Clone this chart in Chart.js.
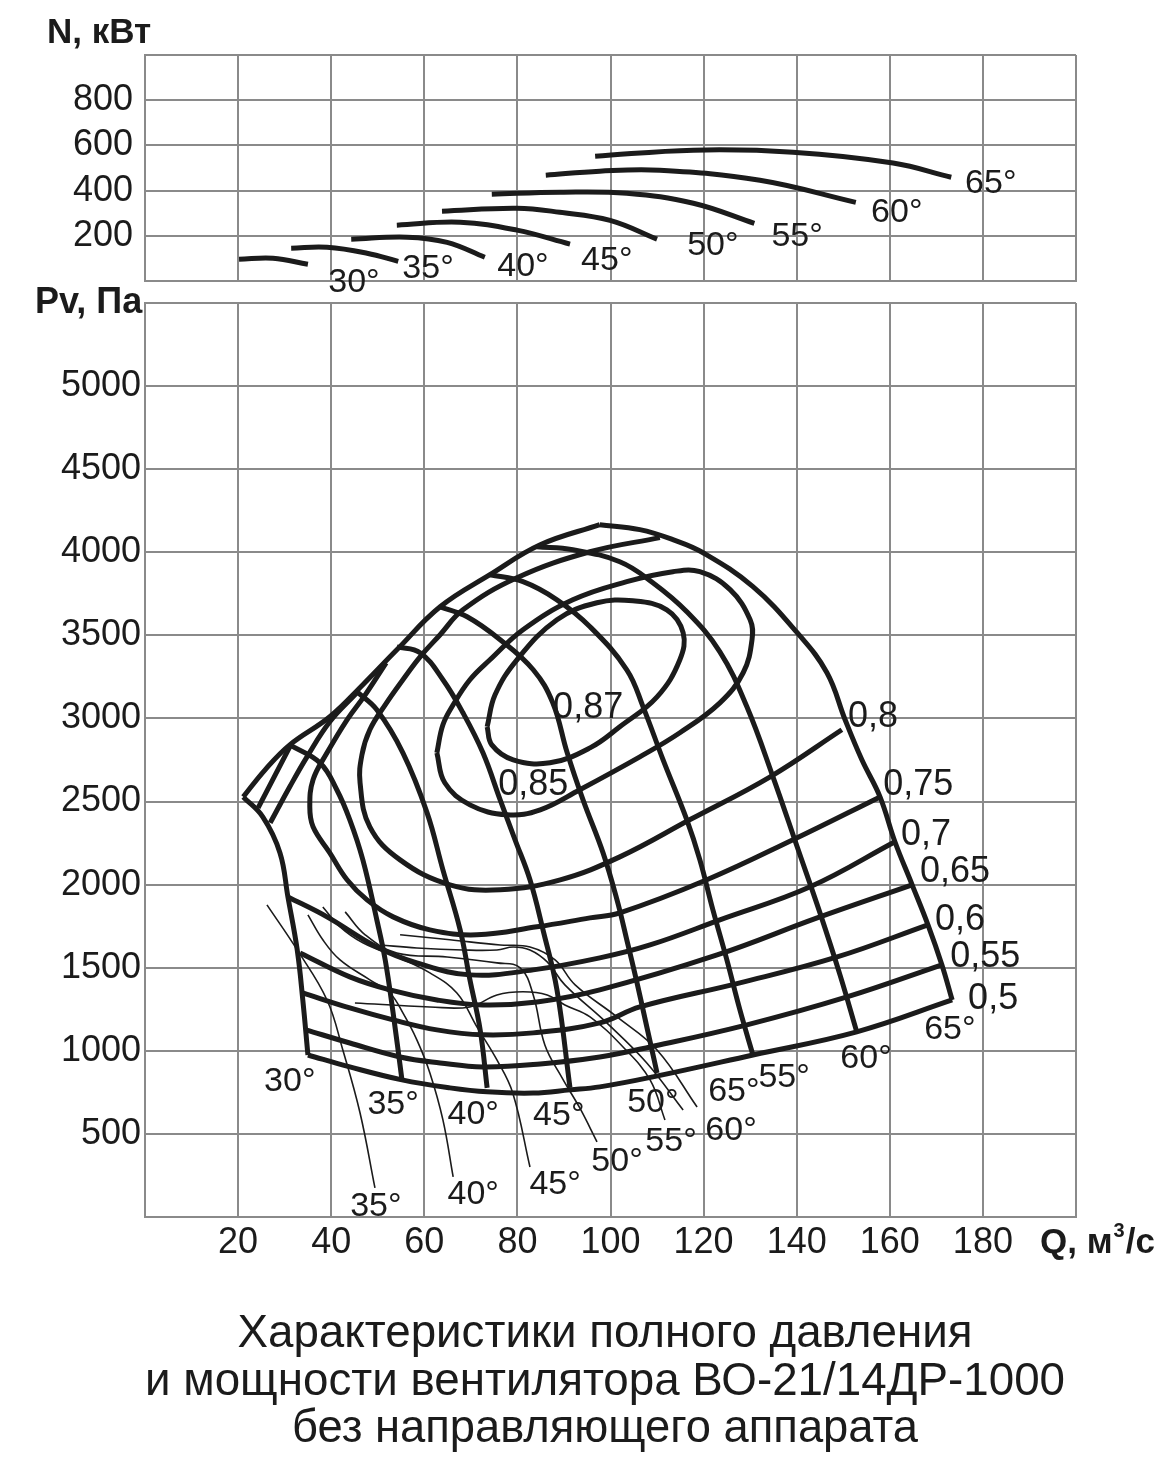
<!DOCTYPE html>
<html>
<head>
<meta charset="utf-8">
<script src="https://cdn.jsdelivr.net/npm/chart.js@4.4.1/dist/chart.umd.min.js"></script>
<style>
    html, body { margin: 0; padding: 0; background: #fff; }
    #wrap { position: relative; width: 1175px; height: 1460px; }
    canvas { position: absolute; left: 0; }
    #powerCanvas { top: 0; }
    #pressureCanvas { top: 270px; }
</style>
</head>
<body>
<div id="wrap">
    <canvas id="powerCanvas" width="1175" height="330"></canvas>
    <canvas id="pressureCanvas" width="1175" height="1190"></canvas>
</div>
<script>
// подписи осей
const qTicks = [20, 40, 60, 80, 100, 120, 140, 160, 180];
const nTicks = [200, 400, 600, 800];
const pvTicks = [500, 1000, 1500, 2000, 2500, 3000, 3500, 4000, 4500, 5000];

// мощность N, кВт  [Q, N]
const power30 = [[20.2, 96], [27.5, 101], [35.0, 74]];
const power35 = [[31.4, 145], [39.1, 149], [47.7, 123], [54.4, 87]];
const power40 = [[44.3, 185], [56.3, 194], [64.9, 171], [73.0, 105]];
const power45 = [[54.1, 247], [67.7, 260], [79.9, 225], [91.3, 163]];
const power50 = [[63.8, 309], [79.9, 322], [89.1, 304], [99.9, 268], [110.0, 185]];
const power55 = [[74.5, 384], [89.2, 393], [103.5, 388], [117.8, 344], [130.9, 255]];
const power60 = [[86.1, 468], [97.7, 486], [110.6, 490], [132.1, 446], [152.7, 348]];
const power65 = [[96.7, 552], [117.8, 579], [139.2, 570], [160.7, 522], [173.2, 459]];
const powerLabels = [['30°', 44.9, -6], ['35°', 60.8, 56], ['40°', 81.2, 65], ['45°', 99.2, 92],
    ['50°', 122.0, 158], ['55°', 140.1, 198], ['60°', 161.5, 304], ['65°', 181.7, 433]];

// полное давление Pv, Па  [Q, Pv] — линии углов установки лопаток
const stallLine = [[21.1, 2528], [25.8, 2691], [31.1, 2841], [39.7, 3010], [46.8, 3203], [54.1, 3413],
    [63.4, 3672], [74.1, 3865], [84.9, 4045], [97.7, 4166]];
const blade30 = [[21.1, 2528], [25.3, 2408], [29.0, 2191], [30.7, 1926], [32.7, 1607], [33.9, 1306], [35.0, 975]];
const blade35 = [[31.1, 2841], [37.6, 2733], [41.2, 2571], [44.0, 2390], [46.8, 2149], [49.8, 1788],
    [51.6, 1547], [53.3, 1228], [55.2, 825]];
const blade40 = [[45.5, 3161], [49.8, 3052], [55.4, 2793], [60.6, 2432], [64.0, 2089], [67.7, 1728],
    [69.8, 1427], [72.0, 1126], [73.5, 777]];
const blade45 = [[54.1, 3431], [59.1, 3395], [64.0, 3233], [68.3, 3034], [72.6, 2793], [76.3, 2510],
    [79.5, 2270], [82.7, 2029], [85.5, 1728], [88.5, 1367], [91.3, 777]];
const blade50 = [[63.4, 3672], [69.2, 3612], [76.3, 3474], [83.4, 3293], [87.6, 3094], [90.7, 2793],
    [94.1, 2510], [98.4, 2191], [101.4, 1908], [103.5, 1668], [105.7, 1409], [107.8, 1144], [110.0, 867]];
const blade55 = [[74.1, 3865], [81.2, 3823], [88.5, 3714], [95.6, 3552], [103.5, 3293], [107.0, 3070],
    [111.3, 2751], [116.4, 2390], [119.2, 2149], [122.0, 1848], [125.0, 1547], [127.8, 1246], [130.6, 975]];
const blade60 = [[84.2, 4033], [91.9, 4015], [102.0, 3943], [109.1, 3817], [116.4, 3642], [123.5, 3401],
    [129.3, 3070], [134.9, 2649], [140.1, 2228], [145.0, 1830], [149.3, 1457], [152.9, 1114]];
const blade65 = [[97.7, 4166], [106.3, 4136], [113.4, 4076], [119.9, 3997], [130.6, 3793], [140.1, 3516],
    [146.5, 3275], [150.4, 2992], [154.0, 2751], [157.9, 2528], [161.1, 2258], [164.8, 1999],
    [168.2, 1758], [171.2, 1517], [173.4, 1306]];
const edgeA = [[24.3, 2462], [31.1, 2829]];
const edgeB = [[26.9, 2372], [31.1, 2589], [34.8, 2769], [39.7, 2980], [45.5, 3154]];

// линии КПД
const eff50 = [[35.0, 975], [44.0, 903], [55.2, 825], [65.5, 777], [73.5, 753], [83.4, 746], [91.3, 765],
    [97.7, 783], [109.1, 843], [130.6, 975], [152.9, 1114], [173.4, 1306]];
const eff55 = [[34.6, 1126], [44.0, 1047], [54.8, 963], [63.4, 927], [72.6, 903], [84.9, 921], [97.7, 963],
    [108.5, 1023], [129.3, 1156], [150.8, 1324], [171.2, 1517]];
const eff60 = [[33.9, 1348], [44.0, 1258], [53.3, 1186], [62.7, 1126], [72.6, 1096], [83.4, 1108],
    [97.7, 1168], [106.3, 1264], [127.8, 1409], [148.7, 1565], [168.2, 1758]];
const eff65 = [[33.3, 1589], [44.0, 1445], [52.6, 1367], [62.7, 1306], [72.6, 1276], [84.2, 1294],
    [97.7, 1367], [122.9, 1577], [144.4, 1800], [164.8, 1999]];
const eff70 = [[30.7, 1926], [39.1, 1806], [49.8, 1625], [58.4, 1529], [69.8, 1457], [83.4, 1487],
    [97.7, 1559], [108.5, 1637], [123.5, 1788], [142.9, 1987], [161.1, 2258]];
const eff75 = [[157.9, 2528], [139.2, 2270], [120.7, 2029], [102.0, 1830], [95.6, 1800], [84.2, 1746],
    [71.3, 1698], [61.2, 1728], [53.3, 1806], [47.7, 1908], [43.4, 2029], [39.7, 2191], [36.1, 2348],
    [35.4, 2468], [36.1, 2631], [39.1, 2793], [43.4, 2992], [47.3, 3142], [51.8, 3335]];
const eff80 = [[149.7, 2932], [134.3, 2649], [117.0, 2390], [102.0, 2167], [89.2, 2029], [76.3, 1969],
    [65.5, 1999], [54.8, 2149], [48.3, 2348], [46.2, 2613], [46.6, 2781], [48.3, 2932], [51.6, 3082],
    [55.4, 3233], [59.1, 3371], [63.4, 3504], [68.3, 3654], [79.9, 3847], [95.6, 4003], [110.6, 4088]];
const eff85 = [[62.7, 2793], [64.0, 2962], [66.2, 3082], [69.8, 3233], [74.1, 3353], [81.2, 3534],
    [91.9, 3714], [103.5, 3823], [113.4, 3883], [119.2, 3883], [125.7, 3775], [130.0, 3594], [130.4, 3474],
    [128.5, 3275], [123.5, 3094], [114.9, 2914], [106.3, 2769], [93.4, 2571], [84.9, 2450], [77.8, 2420],
    [69.8, 2480], [64.4, 2613], [62.7, 2793]];
const eff87 = [[73.5, 2950], [75.2, 3142], [79.9, 3353], [88.5, 3594], [97.1, 3696], [104.8, 3708],
    [112.1, 3654], [115.6, 3516], [114.9, 3353], [110.0, 3130], [102.0, 2950], [95.6, 2823], [87.0, 2733],
    [79.1, 2751], [74.5, 2841], [73.5, 2950]];

// тонкие линии
const thin35 = [[26.2, 1878], [32.7, 1607], [39.1, 1306], [42.5, 1005], [46.2, 626], [49.4, 175]];
const thin40 = [[35.0, 1818], [38.2, 1668], [41.9, 1547], [48.3, 1427], [52.6, 1348], [55.4, 1228],
    [58.4, 1066], [61.2, 867], [64.0, 584], [66.2, 241]];
const thin45 = [[38.2, 1866], [41.9, 1746], [46.8, 1650], [54.1, 1565], [61.2, 1469], [67.0, 1348],
    [71.3, 1144], [75.6, 945], [79.0, 746], [82.7, 301]];
const thin50 = [[43.0, 1836], [47.3, 1698], [54.1, 1589], [64.9, 1565], [75.6, 1529], [80.6, 1499],
    [83.4, 1336], [85.9, 1035], [89.6, 837], [93.4, 656], [97.1, 452]];
const thin55 = [[45.1, 1288], [61.2, 1264], [69.8, 1264], [75.6, 1336], [81.2, 1355], [86.4, 1336],
    [90.2, 1276], [95.6, 1204], [102.7, 1023], [108.5, 825], [111.7, 584]];
const thin60 = [[50.5, 1637], [58.4, 1619], [68.3, 1607], [75.6, 1607], [79.1, 1625], [82.7, 1607],
    [86.4, 1535], [90.2, 1397], [99.2, 1168], [107.8, 927], [115.6, 644]];
const thin65 = [[54.8, 1698], [65.5, 1668], [76.3, 1637], [82.7, 1625], [88.1, 1547], [92.4, 1397],
    [101.4, 1204], [110.0, 1005], [118.6, 662]];

const effLabels = [['0,87', 95.2, 3064], ['0,85', 83.4, 2601], ['0,8', 156.4, 3010], ['0,75', 166.1, 2601],
    ['0,7', 167.8, 2300], ['0,65', 174.0, 2077], ['0,6', 175.1, 1788], ['0,55', 180.5, 1565], ['0,5', 182.2, 1312]];
const bladeLabels = [['30°', 31.1, 813], ['35°', 53.3, 674], ['40°', 70.5, 614], ['45°', 88.9, 608],
    ['50°', 109.1, 686], ['55°', 137.3, 837], ['60°', 154.9, 951], ['65°', 172.9, 1126],
    ['65°', 126.5, 753], ['60°', 125.9, 518], ['55°', 113.0, 452], ['50°', 101.4, 331],
    ['45°', 88.1, 193], ['40°', 70.5, 132], ['35°', 49.6, 60]];

const titleLines = ['Характеристики полного давления', 'и мощности вентилятора ВО-21/14ДР-1000', 'без направляющего аппарата'];

const ink = '#1b1b1b';
const gridColor = '#8a8a8a';
const fontFamily = '"Liberation Sans", Arial, Helvetica, sans-serif';

function curve(points, width) {
    return {
        data: points.map(p => ({ x: p[0], y: p[1] })),
        showLine: true,
        borderColor: ink,
        borderWidth: width,
        pointRadius: 0,
        tension: 0.4,
        fill: false
    };
}

// все линии сетки, без автопропуска
function gridSteps(max, step) {
    const out = [];
    for (let v = 0; v <= max + 1e-9; v += step) out.push({ value: v });
    return out;
}

function makeScales(yMax, yStep, yShown, yPad, xHeight, showX) {
    return {
        x: {
            type: 'linear', min: 0, max: 200,
            afterFit: s => { s.height = xHeight; },
            afterBuildTicks: s => { s.ticks = gridSteps(200, 20); },
            grid: { color: gridColor, lineWidth: 2, drawTicks: false },
            border: { display: true, color: gridColor, width: 2 },
            ticks: {
                display: showX, autoSkip: false, padding: 4, color: ink,
                font: { family: fontFamily, size: 36 },
                callback: v => qTicks.includes(v) ? String(v) : ''
            }
        },
        y: {
            type: 'linear', min: 0, max: yMax,
            afterFit: s => { s.width = 145; },
            afterBuildTicks: s => { s.ticks = gridSteps(yMax, yStep); },
            grid: { color: gridColor, lineWidth: 2, drawTicks: false },
            border: { display: true, color: gridColor, width: 2 },
            ticks: {
                autoSkip: false, padding: yPad, color: ink,
                font: { family: fontFamily, size: 36 },
                callback: v => yShown.includes(v) ? String(v) : ''
            }
        }
    };
}

// подписи кривых
function labelPlugin(groups, extra) {
    return {
        id: 'curveLabels',
        afterDatasetsDraw(chart) {
            const ctx = chart.ctx;
            const sx = chart.scales.x, sy = chart.scales.y;
            ctx.save();
            ctx.fillStyle = ink;
            ctx.textAlign = 'center';
            ctx.textBaseline = 'middle';
            groups.forEach(g => {
                ctx.font = g.size + 'px ' + fontFamily;
                g.items.forEach(([t, q, v]) => {
                    ctx.fillText(t, sx.getPixelForValue(q), sy.getPixelForValue(v));
                });
            });
            if (extra) extra(ctx);
            ctx.restore();
        }
    };
}

// верхний график — мощность
new Chart(document.getElementById('powerCanvas'), {
    type: 'scatter',
    data: {
        datasets: [power30, power35, power40, power45, power50, power55, power60, power65].map(p => curve(p, 5))
    },
    options: {
        responsive: false, animation: false, devicePixelRatio: 1,
        layout: { padding: { top: 55, right: 99, left: 0, bottom: 0 } },
        plugins: { legend: { display: false }, tooltip: { enabled: false } },
        scales: makeScales(1000, 200, nTicks, 12, 49, false)
    },
    plugins: [labelPlugin([{ size: 34, items: powerLabels }], ctx => {
        ctx.font = 'bold 35px ' + fontFamily;
        ctx.textAlign = 'left';
        ctx.fillText('N, кВт', 47, 33);
    })]
});

// нижний график — полное давление
const thick = [stallLine, blade30, blade35, blade40, blade45, blade50, blade55, blade60, blade65,
    edgeA, edgeB, eff50, eff55, eff60, eff65, eff70, eff75, eff80, eff85, eff87];
const thin = [thin35, thin40, thin45, thin50, thin55, thin60, thin65];

new Chart(document.getElementById('pressureCanvas'), {
    type: 'scatter',
    data: {
        datasets: thick.map(p => curve(p, 5)).concat(thin.map(p => curve(p, 1.6)))
    },
    options: {
        responsive: false, animation: false, devicePixelRatio: 1,
        layout: { padding: { top: 33, right: 99, left: 0, bottom: 0 } },
        plugins: { legend: { display: false }, tooltip: { enabled: false } },
        scales: makeScales(5500, 500, pvTicks, 4, 243, true)
    },
    plugins: [labelPlugin([{ size: 36, items: effLabels }, { size: 34, items: bladeLabels }], ctx => {
        ctx.textAlign = 'left';
        ctx.font = 'bold 36px ' + fontFamily;
        ctx.fillText('Pv, Па', 35, 33);
        // подпись оси Q
        ctx.font = 'bold 35px ' + fontFamily;
        let x = 1040;
        const y = 973;
        ctx.fillText('Q, м', x, y);
        x += ctx.measureText('Q, м').width;
        ctx.font = 'bold 20px ' + fontFamily;
        ctx.fillText('3', x + 1, y - 12);
        x += ctx.measureText('3').width + 2;
        ctx.font = 'bold 35px ' + fontFamily;
        ctx.fillText('/с', x, y);
        // заголовок
        const widths = [735, 920, 626];
        const baselines = [1077, 1125, 1172];
        ctx.font = '46px ' + fontFamily;
        ctx.textBaseline = 'alphabetic';
        titleLines.forEach((line, i) => {
            const w = ctx.measureText(line).width;
            ctx.save();
            ctx.translate(605, baselines[i]);
            ctx.scale(widths[i] / w, 1);
            ctx.textAlign = 'center';
            ctx.fillText(line, 0, 0);
            ctx.restore();
        });
    })]
});
</script>
</body>
</html>
